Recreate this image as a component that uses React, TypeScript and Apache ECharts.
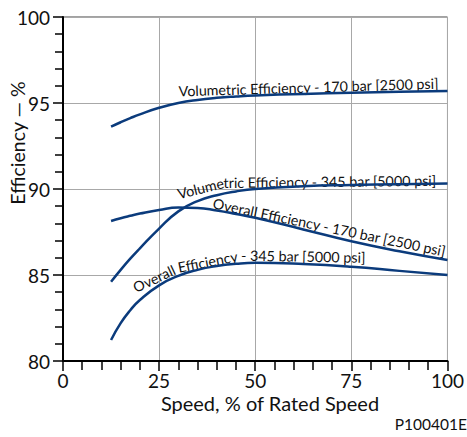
import React, { useEffect, useRef } from "react";
import * as echarts from "echarts";

const speeds = [12.5, 15, 17.5, 20, 25, 30, 35, 40, 45, 50, 62.5, 75, 87.5, 100];
const vol170 = [93.62, 93.88, 94.12, 94.34, 94.72, 95.0, 95.18, 95.3, 95.38, 95.44, 95.53, 95.59, 95.65, 95.7];
const vol345 = [84.61, 85.3, 85.95, 86.55, 87.7, 88.7, 89.3, 89.64, 89.86, 90.0, 90.16, 90.23, 90.28, 90.32];
const ovr170 = [88.14, 88.3, 88.44, 88.57, 88.78, 88.92, 88.9, 88.75, 88.55, 88.33, 87.65, 86.96, 86.38, 85.87];
const ovr345 = [81.22, 82.2, 82.95, 83.55, 84.4, 84.95, 85.3, 85.52, 85.65, 85.71, 85.64, 85.48, 85.24, 85.0];

const xTicks = [0, 25, 50, 75, 100];
const yTicks = [80, 85, 90, 95, 100];

const seriesNames = [
  "Volumetric Efficiency - 170 bar [2500 psi]",
  "Volumetric Efficiency - 345 bar [5000 psi]",
  "Overall Efficiency - 170 bar [2500 psi]",
  "Overall Efficiency - 345 bar [5000 psi]",
];

// curve annotations: start point (data coords, left-middle of first glyph) and text pieces with rotation (deg)
const annotations: { x: number; y: number; pieces: { text: string; rot: number }[] }[] = [
  { x: 30.08, y: 95.7, pieces: [{ text: "Volumetric Efficiency - 170 bar [2500 psi]", rot: 1.7 }] },
  {
    x: 29.8,
    y: 89.71,
    pieces: [
      { text: "Volume", rot: 14 },
      { text: "tric Efficiency - 345 bar [5000 psi]", rot: 0.6 },
    ],
  },
  { x: 39.07, y: 89.19, pieces: [{ text: "Overall Efficiency - 170 bar [2500 psi]", rot: -11.8 }] },
  {
    x: 18.4,
    y: 84.24,
    pieces: [
      { text: "Overall ", rot: 25 },
      { text: "Efficiency ", rot: 11 },
      { text: "- 345 bar [5000 psi]", rot: -1 },
    ],
  },
];

const FONT = "Lato";
const LABEL_SIZE = 14.3;
const LINE = "#0b3b7c";

export default function App() {
  const ref = useRef<HTMLDivElement>(null);
  useEffect(() => {
    if (!ref.current) return;
    const chart = echarts.init(ref.current, null, { renderer: "svg" });
    const all = [vol170, vol345, ovr170, ovr345];
    chart.setOption({
      animation: false,
      grid: {
        left: 63,
        right: 15,
        top: 17,
        bottom: 76,
        show: true,
        borderColor: "#444",
        borderWidth: 1,
      },
      xAxis: {
        type: "value",
        min: 0,
        max: 100,
        interval: 25,
        axisLine: { show: true, lineStyle: { color: "#000", width: 2 } },
        axisTick: { show: true, length: 10, lineStyle: { color: "#000", width: 1.5 } },
        minorTick: { show: true, splitNumber: 5, length: 9, lineStyle: { color: "#000", width: 1.5 } },
        splitLine: { show: true, lineStyle: { color: "#a8a8a8", width: 1 } },
        axisLabel: {
          margin: 10,
          fontSize: 19,
          fontFamily: FONT,
          color: "#111",
          formatter: (v: number) => (xTicks.includes(v) ? String(v) : ""),
        },
      },
      yAxis: {
        type: "value",
        min: 80,
        max: 100,
        interval: 5,
        axisLine: { show: true, lineStyle: { color: "#000", width: 2 } },
        axisTick: { show: true, length: 10, lineStyle: { color: "#000", width: 1.5 } },
        minorTick: { show: true, splitNumber: 5, length: 8, lineStyle: { color: "#000", width: 1.5 } },
        splitLine: { show: true, lineStyle: { color: "#a8a8a8", width: 1 } },
        axisLabel: {
          margin: 13,
          fontSize: 19,
          fontFamily: FONT,
          color: "#111",
          formatter: (v: number) => (yTicks.includes(v) ? String(v) : ""),
        },
      },
      series: all.map((vals, i) => ({
        name: seriesNames[i],
        type: "line",
        smooth: 0.5,
        showSymbol: false,
        symbol: "none",
        lineStyle: { color: LINE, width: 2.5 },
        data: speeds.map((s, j) => [s, vals[j]]),
      })),
    });

    const ctx = document.createElement("canvas").getContext("2d")!;
    ctx.font = `${LABEL_SIZE}px ${FONT}`;

    const texts: any[] = [];
    annotations.forEach((a) => {
      const p = chart.convertToPixel({ gridIndex: 0 }, [a.x, a.y]) as number[];
      let cx = p[0];
      let cy = p[1];
      a.pieces.forEach((pc) => {
        const r = (pc.rot * Math.PI) / 180;
        texts.push({
          type: "text",
          x: cx,
          y: cy,
          rotation: r,
          style: {
            text: pc.text,
            fontSize: LABEL_SIZE,
            fontFamily: FONT,
            fill: "#111",
            align: "left",
            verticalAlign: "middle",
          },
        });
        const w = ctx.measureText(pc.text).width;
        cx += w * Math.cos(r);
        cy -= w * Math.sin(r);
      });
    });

    chart.setOption({
      graphic: [
        ...texts,
        {
          type: "text",
          x: 17,
          y: 143,
          rotation: Math.PI / 2,
          style: {
            text: "Efficiency — %",
            fontSize: 19.5,
            fontFamily: FONT,
            fill: "#111",
            align: "center",
            verticalAlign: "middle",
          },
        },
        {
          type: "text",
          x: 270,
          y: 403,
          style: {
            text: "Speed, % of Rated Speed",
            fontSize: 20,
            fontFamily: FONT,
            fill: "#111",
            align: "center",
            verticalAlign: "middle",
          },
        },
        {
          type: "text",
          x: 467,
          y: 424,
          style: {
            text: "P100401E",
            fontSize: 15.5,
            fontFamily: FONT,
            fill: "#111",
            align: "right",
            verticalAlign: "middle",
          },
        },
      ],
    });

    return () => chart.dispose();
  }, []);
  return (
    <div
      ref={ref}
      style={{ position: "fixed", left: 0, top: 0, width: 467, height: 437, background: "#fff" }}
    />
  );
}
